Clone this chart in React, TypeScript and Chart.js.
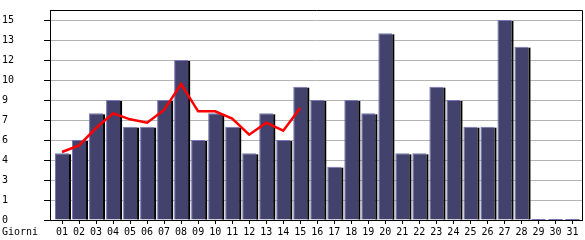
import { useEffect, useRef } from 'react';
import { Chart, registerables } from 'chart.js';

Chart.register(...registerables);

const dayLabels = ['01','02','03','04','05','06','07','08','09','10','11','12','13','14','15','16','17','18','19','20','21','22','23','24','25','26','27','28','29','30','31'];
const visits = [5, 6, 8, 9, 7, 7, 9, 12, 6, 8, 7, 5, 8, 6, 10, 9, 4, 9, 8, 14, 5, 5, 10, 9, 7, 7, 15, 13, 0, 0, 0];
const trendDays = [1, 2, 3, 4, 5, 6, 7, 8, 9, 10, 11, 12, 13, 14, 15];
const trendValues = [5.1, 5.6, 6.9, 8.0, 7.55, 7.3, 8.25, 10.2, 8.15, 8.15, 7.6, 6.4, 7.3, 6.7, 8.4];
const yTickValues = [0, 1.5, 3, 4.5, 6, 7.5, 9, 10.5, 12, 13.5, 15];
const yTickLabels = ['0', '1', '3', '4', '6', '7', '9', '10', '12', '13', '15'];
const xAxisTitle = 'Giorni';

const BAR_BODY = '#42426c';
const BAR_LIGHT = '#7676b6';
const FONT = { family: '"DejaVu Sans Mono", monospace', size: 10 };

export default function App() {
  const ref = useRef<HTMLCanvasElement>(null);

  useEffect(() => {
    document.body.style.margin = '0';
    const canvas = ref.current!;

    const barShadow = {
      id: 'barShadow',
      afterDatasetDraw(chart: any, args: any) {
        if (args.index !== 0) return;
        const c = chart.ctx;
        c.save();
        args.meta.data.forEach((el: any, i: number) => {
          const { x, y, base, width } = el.getProps(['x', 'y', 'base', 'width'], true);
          if (visits[i] === 0) {
            c.fillStyle = BAR_LIGHT;
            c.fillRect(x - width / 2, base - 1, width, 1);
          } else {
            c.fillStyle = '#000';
            c.fillRect(x + width / 2, y + 1, 2, base - y - 1);
          }
        });
        c.restore();
      },
    };

    const frame = {
      id: 'frame',
      afterDraw(chart: any) {
        const { left, top, right, bottom } = chart.chartArea;
        const c = chart.ctx;
        c.save();
        c.strokeStyle = '#000';
        c.lineWidth = 1;
        c.beginPath();
        c.moveTo(left, top + 0.5);
        c.lineTo(right + 0.5, top + 0.5);
        c.lineTo(right + 0.5, bottom);
        c.stroke();
        c.fillStyle = '#000';
        c.font = `${FONT.size}px ${FONT.family}`;
        c.textAlign = 'left';
        c.textBaseline = 'middle';
        c.fillText(xAxisTitle, 2, chart.scales.x.top + 12);
        c.restore();
      },
    };

    const chart = new Chart(canvas, {
      data: {
        datasets: [
          {
            type: 'bar',
            data: visits.map((v, i) => ({ x: i + 1, y: v })),
            backgroundColor: BAR_BODY,
            borderColor: BAR_LIGHT,
            borderWidth: { top: 1, left: 1, right: 0, bottom: 0 },
            borderSkipped: false,
            barPercentage: 14 / 17,
            categoryPercentage: 1,
            order: 2,
          },
          {
            type: 'line',
            data: trendDays.map((d, i) => ({ x: d, y: trendValues[i] })),
            borderColor: '#ff0000',
            borderWidth: 2.5,
            pointRadius: 0,
            tension: 0,
            fill: false,
            order: 1,
          },
        ],
      } as any,
      options: {
        animation: false,
        responsive: false,
        layout: { padding: { left: 2, top: 10, right: 3, bottom: 0 } },
        plugins: { legend: { display: false }, tooltip: { enabled: false } },
        scales: {
          x: {
            type: 'linear',
            offset: false,
            min: 1 - 12 / 17,
            max: 31 + 9.5 / 17,
            afterBuildTicks: (scale: any) => {
              scale.ticks = dayLabels.map((_, i) => ({ value: i + 1 }));
            },
            afterFit: (scale: any) => {
              scale.height = 20;
              scale.paddingLeft = 0;
              scale.paddingRight = 0;
            },
            ticks: {
              autoSkip: false,
              maxRotation: 0,
              padding: 2,
              color: '#000',
              font: FONT,
              callback: (_v: any, i: number) => dayLabels[i],
            },
            grid: { offset: false, drawOnChartArea: false, drawTicks: true, tickLength: 4, tickColor: '#000' },
            border: { display: true, color: '#000', width: 1 },
          },
          y: {
            type: 'linear',
            min: 0,
            max: 15.75,
            afterBuildTicks: (scale: any) => {
              scale.ticks = yTickValues.map((v) => ({ value: v }));
            },
            afterFit: (scale: any) => {
              scale.width = 48;
              scale.paddingTop = 0;
              scale.paddingBottom = 0;
            },
            ticks: {
              crossAlign: 'far',
              padding: 0,
              color: '#000',
              font: FONT,
              callback: (_v: any, i: number) => yTickLabels[i],
            },
            grid: { color: '#b4b4b4', tickColor: '#000', tickLength: 6 },
            border: { display: true, color: '#000', width: 1 },
          },
        },
      } as any,
      plugins: [barShadow, frame],
    });

    return () => chart.destroy();
  }, []);

  return (
    <div style={{ width: 585, height: 240 }}>
      <canvas ref={ref} width={585} height={240} style={{ display: 'block' }} />
    </div>
  );
}
